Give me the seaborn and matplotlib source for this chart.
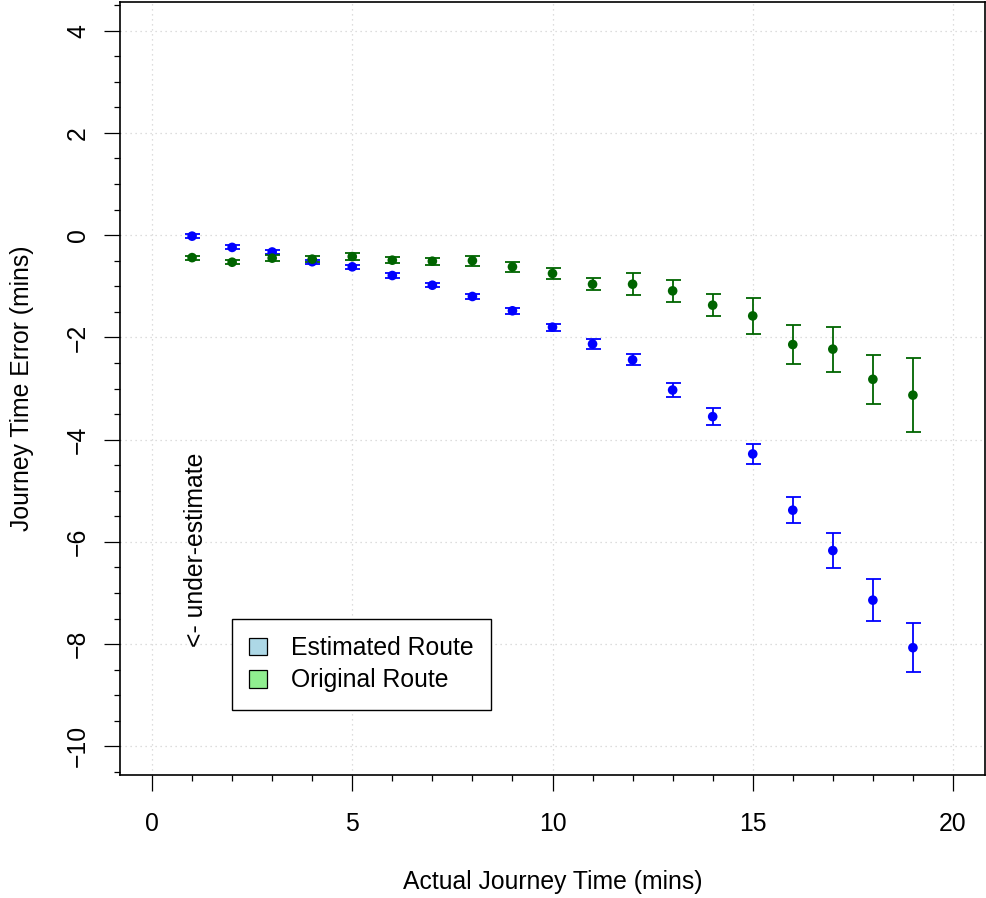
import numpy as np
import pandas as pd
import seaborn as sns
import matplotlib
matplotlib.use("Agg")
import matplotlib.pyplot as plt
from matplotlib.patches import Patch
from matplotlib.ticker import MultipleLocator

# ---- data ----
journey_time = list(range(1, 20))
est_mean = [-0.02, -0.24, -0.33, -0.52, -0.62, -0.79, -0.98, -1.20, -1.48, -1.80,
            -2.13, -2.44, -3.03, -3.55, -4.28, -5.38, -6.17, -7.14, -8.07]
est_err = [0.04, 0.04, 0.04, 0.04, 0.04, 0.04, 0.04, 0.05, 0.06, 0.07,
           0.09, 0.11, 0.13, 0.16, 0.20, 0.26, 0.35, 0.41, 0.48]
orig_mean = [-0.44, -0.53, -0.45, -0.47, -0.42, -0.49, -0.51, -0.50, -0.62, -0.75,
             -0.96, -0.96, -1.09, -1.37, -1.58, -2.14, -2.23, -2.82, -3.13]
orig_err = [0.04, 0.04, 0.06, 0.06, 0.07, 0.06, 0.07, 0.10, 0.10, 0.115,
            0.12, 0.21, 0.21, 0.22, 0.35, 0.39, 0.44, 0.48, 0.72]
series_names = ["Estimated Route", "Original Route"]
point_colors = ["#0000FF", "#006400"]
legend_colors = ["#ADD8E6", "#90EE90"]

df = pd.DataFrame({
    "time": journey_time + journey_time,
    "error": est_mean + orig_mean,
    "ci": est_err + orig_err,
    "route": [series_names[0]] * len(journey_time) + [series_names[1]] * len(journey_time),
})

sns.set_theme(style="white")
plt.rcParams["font.family"] = ["Liberation Sans", "DejaVu Sans"]
plt.rcParams["text.color"] = "black"
plt.rcParams["axes.labelcolor"] = "black"

W, H = 986, 898
fig = plt.figure(figsize=(W / 100, H / 100), dpi=100)
ax = fig.add_axes([120 / W, 1 - 775 / H, (985 - 120) / W, (775 - 2) / H])

# error bars
for name, col in zip(series_names, point_colors):
    sub = df[df["route"] == name]
    ax.errorbar(sub["time"], sub["error"], yerr=sub["ci"], fmt="none",
                ecolor=col, elinewidth=1.3, capsize=5.4, capthick=1.3, zorder=2)

sns.scatterplot(data=df, x="time", y="error", hue="route",
                palette=dict(zip(series_names, point_colors)),
                s=48, linewidth=0, legend=False, ax=ax, zorder=3)

ax.set_xlim(-0.8, 20.8)
ax.set_ylim(-10.56, 4.56)
ax.xaxis.set_major_locator(MultipleLocator(5))
ax.xaxis.set_minor_locator(MultipleLocator(1))
ax.yaxis.set_major_locator(MultipleLocator(2))
ax.yaxis.set_minor_locator(MultipleLocator(0.5))

ax.grid(True, which="major", color="#d3d3d3", linestyle=(0, (1, 3)), linewidth=0.9)
ax.set_axisbelow(True)

for sp in ax.spines.values():
    sp.set_color("black")
    sp.set_linewidth(1.2)

ax.tick_params(axis="both", which="major", direction="out", length=11.5, width=0.9,
               color="black", labelsize=17.8, labelcolor="black")
ax.tick_params(axis="both", which="minor", direction="out", length=4.3, width=0.9,
               color="black")
ax.tick_params(axis="x", which="major", pad=15)
ax.tick_params(axis="y", which="major", pad=10)
ax.tick_params(axis="both", which="both", bottom=True, left=True, top=False, right=False)
for lab in ax.get_yticklabels():
    lab.set_rotation(90)
    lab.set_va("center")

ax.set_xlabel("Actual Journey Time (mins)", fontsize=17.8, color="black")
ax.set_ylabel("Journey Time Error (mins)", fontsize=17.8, color="black")
ax.xaxis.set_label_coords(0.5, (775 - 882) / 773)
ax.xaxis.label.set_va("center")
ax.yaxis.set_label_coords((22 - 120) / 865, 0.5)
ax.yaxis.label.set_va("center")

ax.text(1.1, -8.05, "<- under-estimate", rotation=90, rotation_mode="anchor",
        ha="left", va="center", fontsize=17.8, color="black")

handles = [Patch(facecolor=c, edgecolor="black", linewidth=0.9, label=n)
           for n, c in zip(series_names, legend_colors)]
leg = ax.legend(handles=handles, loc="upper left",
                bbox_to_anchor=((232 - 120) / 865, (775 - 619) / 773),
                borderaxespad=0, fontsize=17.8, frameon=True, fancybox=False,
                edgecolor="black", framealpha=1, borderpad=0.7,
                handlelength=0.72, handleheight=0.72, handletextpad=0.95,
                labelspacing=0.33, labelcolor="black")
leg.get_frame().set_linewidth(1.0)

fig.savefig("out.png", dpi=100)
